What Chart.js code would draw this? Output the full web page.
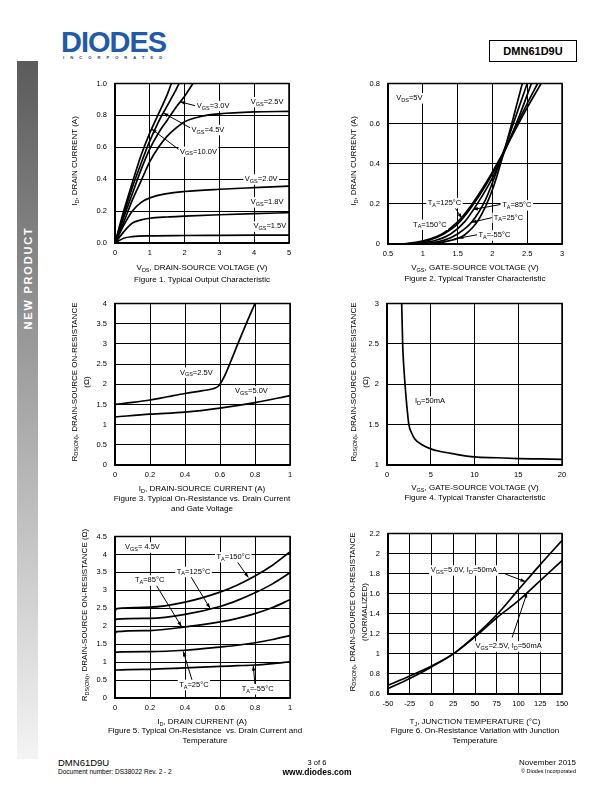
<!DOCTYPE html>
<html><head><meta charset="utf-8">
<script src="https://cdn.jsdelivr.net/npm/chart.js@4/dist/chart.umd.min.js"></script>
<style>
body{margin:0;width:612px;height:792px;position:relative;background:#fff;font-family:"Liberation Sans",Arial,sans-serif;overflow:hidden;color:#000}
canvas{position:absolute}
.c{position:absolute;font-size:8px;white-space:nowrap;transform:translate(-50%,-50%);text-align:center;line-height:10px}
.v{position:absolute;font-size:8px;white-space:nowrap;transform:translate(-50%,-50%) rotate(-90deg);text-align:center;line-height:11.5px}
sub{font-size:5.5px;vertical-align:-1.5px;line-height:0}
</style></head><body>
<div style="position:absolute;left:17px;top:61px;width:21px;height:698px;background:linear-gradient(#5b5b5b,#a0a0a0 45%,#f4f4f4)"></div>
<div style="position:absolute;left:27.5px;top:278px;transform:translate(-50%,-50%) rotate(-90deg);color:#fff;font-weight:bold;font-size:11px;letter-spacing:1.8px;white-space:nowrap">NEW PRODUCT</div>
<div style="position:absolute;left:61px;top:28px;font-size:29px;font-weight:900;color:#1f5ba8;letter-spacing:-1px;line-height:29px">DIODES</div>
<div style="position:absolute;left:63px;top:55px;font-size:4px;color:#1f3a6a;letter-spacing:6.1px;font-weight:bold">INCORPORATED</div>
<div style="position:absolute;left:489px;top:40px;width:88px;height:22px;border:1px solid #000;box-sizing:border-box;font-weight:bold;font-size:11px;line-height:20px;text-align:center">DMN61D9U</div>

<canvas id="f1"></canvas><canvas id="f2"></canvas><canvas id="f3"></canvas>
<canvas id="f4"></canvas><canvas id="f5"></canvas><canvas id="f6"></canvas>

<div class="v" style="left:75px;top:161px">I<sub>D</sub>, DRAIN CURRENT (A)</div>
<div class="c" style="left:202px;top:268px">V<sub>DS</sub>, DRAIN-SOURCE VOLTAGE (V)</div>
<div class="c" style="left:202px;top:280px">Figure 1. Typical Output Characteristic</div>

<div class="v" style="left:354px;top:161px">I<sub>D</sub>, DRAIN CURRENT (A)</div>
<div class="c" style="left:475px;top:268px">V<sub>GS</sub>, GATE-SOURCE VOLTAGE (V)</div>
<div class="c" style="left:475px;top:279px">Figure 2. Typical Transfer Characteristic</div>

<div class="v" style="left:80px;top:382px">R<sub>DS(ON)</sub>, DRAIN-SOURCE ON-RESISTANCE<br>(Ω)</div>
<div class="c" style="left:202px;top:489px">I<sub>D</sub>, DRAIN-SOURCE CURRENT (A)</div>
<div class="c" style="left:202px;top:504px">Figure 3. Typical On-Resistance vs. Drain Current<br>and Gate Voltage</div>

<div class="v" style="left:359px;top:382px">R<sub>DS(ON)</sub>, DRAIN-SOURCE ON-RESISTANCE<br>(Ω)</div>
<div class="c" style="left:475px;top:488px">V<sub>GS</sub>, GATE-SOURCE VOLTAGE (V)</div>
<div class="c" style="left:475px;top:498px">Figure 4. Typical Transfer Characteristic</div>

<div class="v" style="left:85px;top:615px">R<sub>DS(ON)</sub>, DRAIN-SOURCE ON-RESISTANCE (Ω)</div>
<div class="c" style="left:202px;top:722px">I<sub>D</sub>, DRAIN CURRENT (A)</div>
<div class="c" style="left:205px;top:736px">Figure 5. Typical On-Resistance&nbsp; vs. Drain Current and<br>Temperature</div>

<div class="v" style="left:358px;top:612px">R<sub>DS(ON)</sub>, DRAIN-SOURCE ON-RESISTANCE<br>(NORMALIZED)</div>
<div class="c" style="left:475px;top:722px">T<sub>J</sub>, JUNCTION TEMPERATURE (°C)</div>
<div class="c" style="left:475px;top:736px">Figure 6. On-Resistance Variation with Junction<br>Temperature</div>

<div style="position:absolute;left:58px;top:757px;font-size:9.5px;line-height:11px">DMN61D9U</div>
<div style="position:absolute;left:58px;top:768px;font-size:6.5px;line-height:8px">Document number: DS38022 Rev. 2 - 2</div>
<div class="c" style="left:317px;top:763px;font-size:7.5px">3 of 6</div>
<div class="c" style="left:317px;top:772px;font-size:8.5px;font-weight:bold">www.diodes.com</div>
<div style="position:absolute;right:36px;top:758px;font-size:8px;line-height:10px;text-align:right">November 2015</div>
<div style="position:absolute;right:36px;top:768px;font-size:5.5px;line-height:7px;text-align:right">© Diodes Incorporated</div>

<script>
// ---------- Figure 1: Typical Output Characteristic (ID vs VDS) ----------
const f1_v10_x = [0,0.25,0.5,0.75,1.0,1.25,1.5,1.62];
const f1_v10_y = [0,0.2,0.38,0.55,0.69,0.81,0.93,1.0];
const f1_v45_x = [0,0.25,0.5,0.75,1.0,1.25,1.5,1.75,1.84];
const f1_v45_y = [0,0.18,0.35,0.5,0.64,0.76,0.86,0.96,1.0];
const f1_v30_x = [0,0.25,0.5,0.75,1.0,1.25,1.5,1.75,2.0,2.24];
const f1_v30_y = [0,0.16,0.31,0.46,0.59,0.69,0.77,0.85,0.92,1.0];
const f1_v25_x = [0,0.25,0.5,0.75,1,1.25,1.5,1.75,2,2.5,3,4,5];
const f1_v25_y = [0,0.13,0.27,0.39,0.51,0.6,0.67,0.72,0.76,0.795,0.81,0.822,0.825];
const f1_v20_x = [0,0.25,0.5,0.75,1,1.5,2,3,4,5];
const f1_v20_y = [0,0.11,0.2,0.255,0.283,0.31,0.323,0.337,0.347,0.356];
const f1_v18_x = [0,0.25,0.5,0.75,1,1.5,2,3,4,5];
const f1_v18_y = [0,0.07,0.125,0.145,0.155,0.163,0.168,0.177,0.184,0.19];
const f1_v15_x = [0,0.25,0.5,1,2,3,4,5];
const f1_v15_y = [0,0.03,0.04,0.045,0.047,0.048,0.049,0.05];

// ---------- Figure 2: Typical Transfer Characteristic (ID vs VGS) ----------
const f2_t150_x = [0.7,0.9,1.1,1.3,1.5,1.7,1.9,2.1,2.3,2.5,2.7];
const f2_t150_y = [0,0.008,0.025,0.055,0.11,0.195,0.3,0.42,0.55,0.68,0.8];
const f2_t125_x = [0.75,0.9,1.1,1.3,1.5,1.7,1.9,2.1,2.3,2.5,2.65];
const f2_t125_y = [0,0.006,0.02,0.05,0.1,0.185,0.29,0.415,0.56,0.7,0.8];
const f2_t85_x = [0.85,1.0,1.2,1.4,1.6,1.8,2.0,2.2,2.4,2.56];
const f2_t85_y = [0,0.006,0.02,0.05,0.11,0.21,0.33,0.48,0.65,0.8];
const f2_t25_x = [0.95,1.1,1.3,1.5,1.7,1.9,2.1,2.3,2.5];
const f2_t25_y = [0,0.005,0.018,0.05,0.108,0.22,0.4,0.6,0.8];
const f2_tm55_x = [1.05,1.2,1.4,1.5,1.6,1.8,2.0,2.2,2.43];
const f2_tm55_y = [0,0.004,0.018,0.028,0.045,0.12,0.27,0.5,0.8];

// ---------- Figure 3: RDS(ON) vs ID and VGS ----------
const f3_v25_x = [0,0.1,0.2,0.3,0.4,0.5,0.56,0.59,0.62,0.66,0.7,0.75,0.8];
const f3_v25_y = [1.5,1.55,1.61,1.69,1.77,1.84,1.89,1.95,2.15,2.55,2.98,3.5,4.0];
const f3_v50_x = [0,0.2,0.4,0.6,0.8,1.0];
const f3_v50_y = [1.19,1.26,1.31,1.41,1.545,1.72];

// ---------- Figure 4: RDS(ON) vs VGS ----------
const f4_x = [1.68,1.79,1.9,2.06,2.25,2.5,2.8,3.2,4.0,5,6,7.5,10,12.5,15,17.5,20];
const f4_y = [3.0,2.5,2.25,2.0,1.75,1.5,1.4,1.32,1.25,1.2,1.17,1.14,1.1,1.09,1.08,1.075,1.07];

// ---------- Figure 5: RDS(ON) vs ID and temperature ----------
const f5_x = [0,0.01,0.2,0.4,0.6,0.7,0.8,0.9,1.0];
const f5_t150 = [2.42,2.49,2.53,2.67,2.95,3.15,3.4,3.7,4.07];
const f5_t125 = [2.15,2.2,2.22,2.33,2.55,2.72,2.93,3.18,3.49];
const f5_t85 = [1.8,1.85,1.88,1.98,2.12,2.22,2.35,2.52,2.74];
const f5_t25 = [1.25,1.28,1.29,1.33,1.42,1.47,1.54,1.63,1.74];
const f5_tm55 = [0.76,0.78,0.8,0.84,0.88,0.9,0.92,0.96,1.01];

// ---------- Figure 6: normalized RDS(ON) vs TJ ----------
const f6_tj = [-50,-25,0,25,50,75,100,125,150];
const f6_v50 = [0.655,0.755,0.87,1.0,1.18,1.39,1.64,1.89,2.13];
const f6_v25 = [0.687,0.78,0.88,1.0,1.17,1.36,1.53,1.73,1.93];

const FONT = '"Liberation Sans", Arial, sans-serif';
const plain = v => String(parseFloat(Number(v).toFixed(2)));

function pts(xs, ys){ return xs.map((v,i)=>({x:v, y:ys[i]})); }
function ds(xs, ys){ return {data:pts(xs,ys), borderColor:'#000', borderWidth:1.7, pointRadius:0, fill:false, cubicInterpolationMode:'monotone'}; }

function drawRich(ctx, str, x, y, bg){
  const segs = []; const re = /_\{([^}]*)\}/g; let last = 0, m;
  while((m = re.exec(str))){ if(m.index>last) segs.push([str.slice(last,m.index),0]); segs.push([m[1],1]); last = re.lastIndex; }
  if(last<str.length) segs.push([str.slice(last),0]);
  const fM = '7.5px '+FONT, fS = '5.5px '+FONT;
  let w = 0; segs.forEach(s=>{ ctx.font = s[1]?fS:fM; s.push(ctx.measureText(s[0]).width); w += s[2]; });
  if(bg){ ctx.fillStyle='#fff'; ctx.fillRect(x-1.5, y-5, w+3, 10.5); }
  ctx.fillStyle='#000'; ctx.textBaseline='middle'; ctx.textAlign='left';
  let cx = x; segs.forEach(s=>{ ctx.font = s[1]?fS:fM; ctx.fillText(s[0], cx, s[1]? y+2.3 : y); cx += s[2]; });
}

const notesPlugin = {
  id:'frameNotes',
  afterDatasetsDraw(chart){
    const {ctx, chartArea:a} = chart; const sx = chart.scales.x, sy = chart.scales.y;
    const notes = (chart.options.plugins.frameNotes||{}).notes || [];
    ctx.save();
    notes.forEach(n=>{
      if(!n.from) return;
      const x1=sx.getPixelForValue(n.from[0]), y1=sy.getPixelForValue(n.from[1]);
      const x2=sx.getPixelForValue(n.to[0]), y2=sy.getPixelForValue(n.to[1]);
      ctx.strokeStyle='#000'; ctx.lineWidth=1;
      ctx.beginPath(); ctx.moveTo(x1,y1); ctx.lineTo(x2,y2); ctx.stroke();
      const ang=Math.atan2(y2-y1,x2-x1), L=5, W=1.8;
      ctx.beginPath(); ctx.moveTo(x2,y2);
      ctx.lineTo(x2-L*Math.cos(ang)+W*Math.sin(ang), y2-L*Math.sin(ang)-W*Math.cos(ang));
      ctx.lineTo(x2-L*Math.cos(ang)-W*Math.sin(ang), y2-L*Math.sin(ang)+W*Math.cos(ang));
      ctx.closePath(); ctx.fillStyle='#000'; ctx.fill();
    });
    notes.forEach(n=>{ drawRich(ctx, n.text, sx.getPixelForValue(n.at[0]), sy.getPixelForValue(n.at[1]), n.bg!==false); });
    ctx.strokeStyle='#000'; ctx.lineWidth=1.5;
    ctx.strokeRect(a.left, a.top, a.right-a.left, a.bottom-a.top);
    ctx.restore();
  }
};
Chart.register(notesPlugin);

function axis(c, isY){
  const t = {stepSize:c.step, padding:isY?8:5, color:'#000', font:{size:7.5, family:FONT}, autoSkip:false, maxRotation:0, includeBounds:true,
    callback: c.fmt || plain};
  return {type:'linear', min:c.min, max:c.max, ticks:t,
    grid:{color:'#000', lineWidth:1, drawTicks:false},
    border:{color:'#000', width:1.5},
    afterFit(s){ if(isY) s.width = 45; else s.height = 22; }};
}

function make(id, box, xc, yc, datasets, notes){
  const cv = document.getElementById(id);
  const L = 45, T = 8, R = 12, B = 22;
  cv.width = box[2]-box[0]+L+R; cv.height = box[3]-box[1]+T+B;
  cv.style.left = (box[0]-L)+'px'; cv.style.top = (box[1]-T)+'px';
  new Chart(cv, {type:'line', data:{datasets},
    options:{responsive:false, animation:false, devicePixelRatio:1,
      layout:{padding:{left:0, top:T, right:R, bottom:0}},
      plugins:{legend:{display:false}, tooltip:{enabled:false}, frameNotes:{notes}},
      scales:{x:axis(xc,false), y:axis(yc,true)}}});
}

make('f1', [115,79,289,243], {min:0,max:5,step:1}, {min:0,max:1,step:0.2,fmt:v=>Number(v).toFixed(1)},
  [ds(f1_v10_x,f1_v10_y), ds(f1_v45_x,f1_v45_y), ds(f1_v30_x,f1_v30_y), ds(f1_v25_x,f1_v25_y),
   ds(f1_v20_x,f1_v20_y), ds(f1_v18_x,f1_v18_y), ds(f1_v15_x,f1_v15_y)],
  [{text:'V_{GS}=3.0V', at:[2.35,0.86], from:[2.32,0.86], to:[1.87,0.885]},
   {text:'V_{GS}=2.5V', at:[3.9,0.884]},
   {text:'V_{GS}=4.5V', at:[2.2,0.71], from:[2.18,0.72], to:[1.39,0.815]},
   {text:'V_{GS}=10.0V', at:[1.87,0.573], from:[1.84,0.585], to:[1.05,0.715]},
   {text:'V_{GS}=2.0V', at:[3.73,0.40]},
   {text:'V_{GS}=1.8V', at:[3.9,0.256]},
   {text:'V_{GS}=1.5V', at:[3.98,0.104]}]);

make('f2', [388,79,562,244], {min:0.5,max:3,step:0.5}, {min:0,max:0.8,step:0.2},
  [ds(f2_t150_x,f2_t150_y), ds(f2_t125_x,f2_t125_y), ds(f2_t85_x,f2_t85_y), ds(f2_t25_x,f2_t25_y), ds(f2_tm55_x,f2_tm55_y)],
  [{text:'V_{DS}=5V', at:[0.62,0.727]},
   {text:'T_{A}=125°C', at:[1.07,0.205], from:[1.43,0.2], to:[1.56,0.128]},
   {text:'T_{A}=85°C', at:[2.14,0.194], from:[2.12,0.197], to:[1.72,0.172]},
   {text:'T_{A}=25°C', at:[2.02,0.132], from:[2.0,0.132], to:[1.70,0.108]},
   {text:'T_{A}=150°C', at:[0.86,0.097], from:[1.28,0.09], to:[1.37,0.066]},
   {text:'T_{A}=-55°C', at:[1.8,0.044], from:[1.78,0.046], to:[1.51,0.029]}]);

make('f3', [115,299,290,465], {min:0,max:1,step:0.2}, {min:0,max:4,step:0.5},
  [ds(f3_v25_x,f3_v25_y), ds(f3_v50_x,f3_v50_y)],
  [{text:'V_{GS}=2.5V', at:[0.371,2.29]},
   {text:'V_{GS}=5.0V', at:[0.686,1.83]}]);

make('f4', [387,299,562,465], {min:0,max:20,step:5}, {min:1,max:3,step:0.5},
  [ds(f4_x,f4_y)],
  [{text:'I_{D}=50mA', at:[3.2,1.79]}]);

make('f5', [115,532,290,698], {min:0,max:1,step:0.2}, {min:0,max:4.5,step:0.5},
  [ds(f5_x,f5_t150), ds(f5_x,f5_t125), ds(f5_x,f5_t85), ds(f5_x,f5_t25), ds(f5_x,f5_tm55)],
  [{text:'V_{GS}= 4.5V', at:[0.057,4.2]},
   {text:'T_{A}=150°C', at:[0.58,3.93], from:[0.695,3.82], to:[0.762,3.36]},
   {text:'T_{A}=125°C', at:[0.353,3.52], from:[0.43,3.41], to:[0.543,2.5]},
   {text:'T_{A}=85°C', at:[0.114,3.28], from:[0.23,3.19], to:[0.38,1.99]},
   {text:'T_{A}=25°C', at:[0.367,0.37], from:[0.44,0.5], to:[0.39,1.3]},
   {text:'T_{A}=-55°C', at:[0.724,0.25], from:[0.8,0.36], to:[0.79,0.9]}]);

make('f6', [388,529,562,694], {min:-50,max:150,step:25}, {min:0.6,max:2.2,step:0.2},
  [ds(f6_tj,f6_v50), ds(f6_tj,f6_v25)],
  [{text:'V_{GS}=5.0V, I_{D}=50mA', at:[-1,1.834], from:[85,1.795], to:[108,1.72]},
   {text:'V_{GS}=2.5V, I_{D}=50mA', at:[50.5,1.076], from:[92.7,1.164], to:[109.9,1.61]}]);
</script>
</body></html>
